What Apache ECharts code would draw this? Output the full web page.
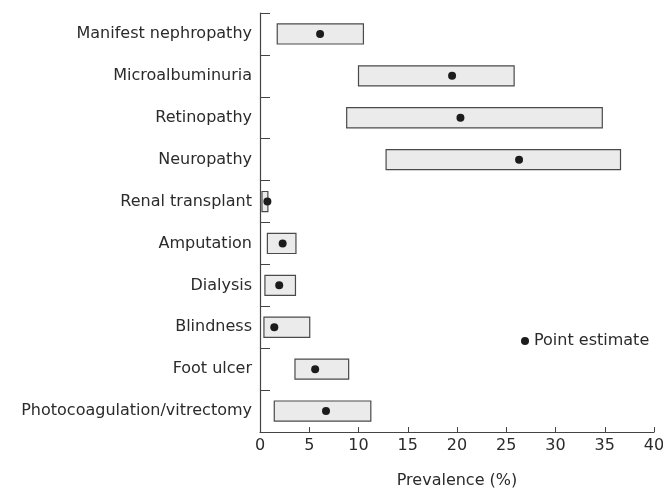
<!DOCTYPE html>
<html>
<head>
<meta charset="utf-8">
<script src="https://cdn.jsdelivr.net/npm/echarts@6/dist/echarts.min.js"></script>
<style>html,body{margin:0;padding:0;background:#fff}#c{width:663px;height:491px}</style>
</head>
<body>
<div id="c"></div>
<script>
var categories = ['Manifest nephropathy','Microalbuminuria','Retinopathy','Neuropathy','Renal transplant','Amputation','Dialysis','Blindness','Foot ulcer','Photocoagulation/vitrectomy'];
var lowValues = [1.75, 10.0, 8.8, 12.8, 0.2, 0.75, 0.5, 0.4, 3.55, 1.45];
var highValues = [10.5, 25.8, 34.75, 36.6, 0.8, 3.65, 3.6, 5.05, 9.0, 11.25];
var pointValues = [6.1, 19.5, 20.35, 26.3, 0.75, 2.3, 1.95, 1.45, 5.6, 6.7];
var xTicks = [0, 5, 10, 15, 20, 25, 30, 35, 40];

var FONT = 'DejaVu Sans';
var TXT = '#2b2b2b';
var rangeData = categories.map(function (c, i) { return [i, lowValues[i], highValues[i]]; });
var pointData = categories.map(function (c, i) { return [pointValues[i], i]; });

var chart = echarts.init(document.getElementById('c'));
chart.setOption({
  backgroundColor: '#fff',
  animation: false,
  textStyle: { fontFamily: FONT },
  grid: { left: 260, right: 9, top: 13, bottom: 59, containLabel: false, outerBoundsMode: 'none' },
  legend: {
    data: [{ name: 'Point estimate', icon: 'circle', itemStyle: { color: '#1c1c1c', opacity: 1 } }],
    left: 516, top: 328,
    itemWidth: 8, itemHeight: 8, itemGap: 5,
    textStyle: { fontFamily: FONT, fontSize: 16, color: TXT, padding: [0, 0, 0, 0] }
  },
  xAxis: {
    type: 'value', min: xTicks[0], max: xTicks[xTicks.length - 1], interval: 5,
    name: 'Prevalence (%)', nameLocation: 'middle', nameGap: 41,
    nameTextStyle: { fontFamily: FONT, fontSize: 16, color: TXT },
    axisLine: { show: true, lineStyle: { color: '#444', width: 1.2 } },
    axisTick: { show: true, inside: true, length: 5, lineStyle: { color: '#444' } },
    axisLabel: { fontFamily: FONT, fontSize: 16, color: TXT, margin: 6 },
    splitLine: { show: false }
  },
  yAxis: {
    type: 'category', data: categories, inverse: true, boundaryGap: true,
    axisLine: { show: true, lineStyle: { color: '#444', width: 1.2 } },
    axisTick: { show: true, inside: true, length: 10, lineStyle: { color: '#444' } },
    axisLabel: { fontFamily: FONT, fontSize: 16, color: TXT, margin: 8 },
    splitLine: { show: false }
  },
  series: [
    {
      type: 'custom', name: 'Range',
      data: rangeData,
      encode: { y: 0, x: [1, 2] },
      renderItem: function (params, api) {
        var ci = api.value(0);
        var p1 = api.coord([api.value(1), ci]);
        var p2 = api.coord([api.value(2), ci]);
        var h = api.size([0, 1])[1] * 0.48;
        return {
          type: 'rect',
          shape: { x: p1[0], y: p1[1] - h / 2, width: p2[0] - p1[0], height: h },
          style: { fill: '#ebebeb', stroke: '#4a4a4a', lineWidth: 1.2 }
        };
      },
      z: 2
    },
    {
      type: 'scatter', name: 'Point estimate',
      data: pointData,
      symbol: 'circle', symbolSize: 8,
      itemStyle: { color: '#1c1c1c', opacity: 1 },
      z: 3
    }
  ]
});
</script>
</body>
</html>
